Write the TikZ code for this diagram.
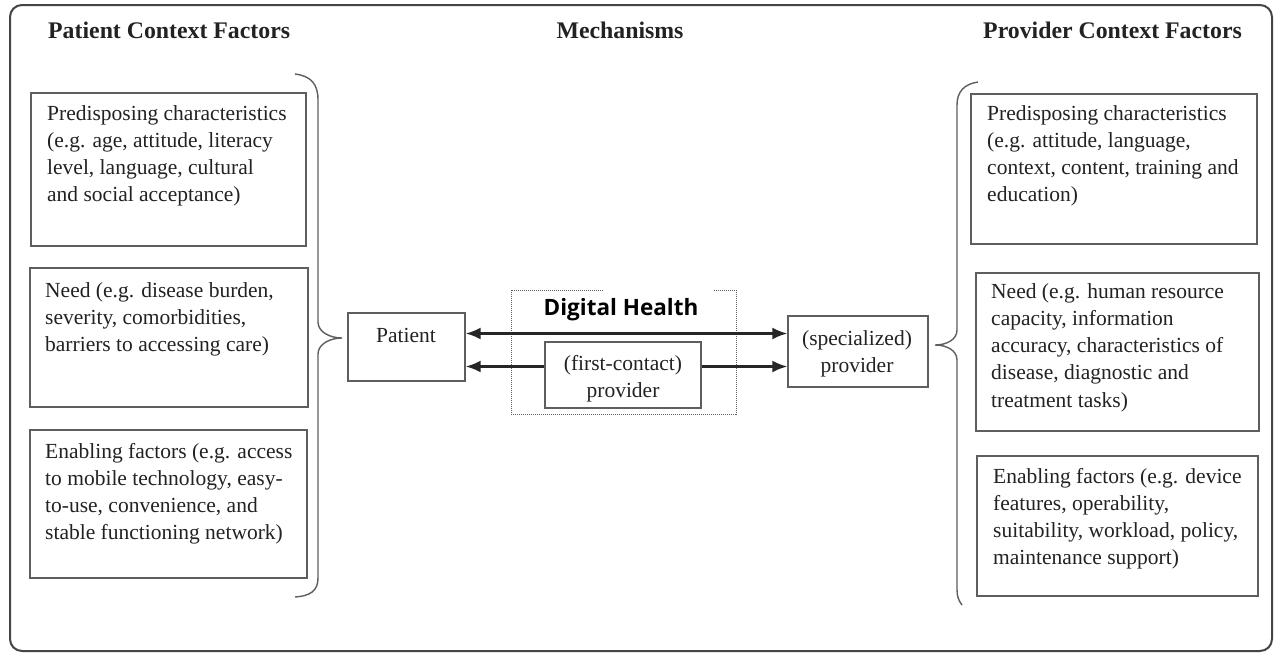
\documentclass[tikz,border=0pt]{standalone}
\usepackage{fontspec}
\setmainfont{Liberation Serif}
\newfontfamily\dhfont{Open Sans}
\usetikzlibrary{arrows.meta,calc}
\definecolor{boxgray}{HTML}{5E5E5E}
\definecolor{txtc}{HTML}{222222}
\definecolor{framec}{HTML}{454545}
\newcommand{\mlL}[1]{\begin{tabular}[t]{@{}l@{}}#1\end{tabular}}
\newcommand{\mlC}[1]{\begin{tabular}[t]{@{}c@{}}#1\end{tabular}}
\begin{document}
\begin{tikzpicture}[x=1pt,y=-1pt,
  boxs/.style={draw=boxgray,line width=1.3pt,inner sep=0pt,rectangle},
  body/.style={inner sep=0pt,text=txtc,font=\fontsize{21.5}{27.3}\selectfont},
  head/.style={inner sep=0pt,text=txtc,font=\fontsize{23.8}{28}\selectfont\bfseries},
  brace/.style={draw=boxgray,line width=1.4pt},
  arr/.style={draw=black!85,line width=2.4pt,-{Latex[length=15pt,width=12pt]}},
  darr/.style={draw=black!85,line width=2.4pt,{Latex[length=15pt,width=12pt]}-{Latex[length=15pt,width=12pt]}}
]
\useasboundingbox (0,0) rectangle (1276,654);
\fill[white] (0,0) rectangle (1276,654);
% outer frame
\draw[framec,line width=2pt,rounded corners=12pt] (10,5) rectangle (1272,651);

% headings
\node[head,anchor=base west] (hpat) at (48,38) {Patient Context Factors};
\node[head,anchor=base] (hmech) at (620,38) {Mechanisms};
\node[head,anchor=base west] (hprov) at (983,38) {Provider Context Factors};

% left boxes
\node[boxs,minimum width=275pt,minimum height=153pt] (l1) at (168.5,169.5) {};
\node[boxs,minimum width=278pt,minimum height=139pt] (l2) at (169,337.5) {};
\node[boxs,minimum width=277pt,minimum height=148pt] (l3) at (168.5,504) {};
\node[body,anchor=base west] (l1t) at (47,120) {\mlL{Predisposing characteristics\\(e.g. age, attitude, literacy\\level, language, cultural\\and social acceptance)}};
\node[body,anchor=base west] (l2t) at (45,297) {\mlL{Need (e.g. disease burden,\\severity, comorbidities,\\barriers to accessing care)}};
\node[body,anchor=base west] (l3t) at (45,458) {\mlL{Enabling factors (e.g. access\\to mobile technology, easy-\\to-use, convenience, and\\stable functioning network)}};

% right boxes
\node[boxs,minimum width=286pt,minimum height=150pt] (r1) at (1114,169) {};
\node[boxs,minimum width=283pt,minimum height=158pt] (r2) at (1117.5,352) {};
\node[boxs,minimum width=281pt,minimum height=140pt] (r3) at (1117.5,526) {};
\node[body,anchor=base west] (r1t) at (987,120) {\mlL{Predisposing characteristics\\(e.g. attitude, language,\\context, content, training and\\education)}};
\node[body,anchor=base west] (r2t) at (991,298) {\mlL{Need (e.g. human resource\\capacity, information\\accuracy, characteristics of\\disease, diagnostic and\\treatment tasks)}};
\node[body,anchor=base west] (r3t) at (993,483) {\mlL{Enabling factors (e.g. device\\features, operability,\\suitability, workload, policy,\\maintenance support)}};

% braces
\draw[brace] (295,74) .. controls (311,76) and (318,84) .. (318,100) -- (318,322)
  .. controls (318,332) and (330,338) .. (342,338)
  .. controls (330,338) and (318,344) .. (318,354) -- (318,578)
  .. controls (318,591) and (310,596) .. (295,597);
\draw[brace] (978,82) .. controls (964,84) and (957,92) .. (957,105) -- (957,330)
  .. controls (957,340) and (946,345) .. (935,345)
  .. controls (946,345) and (957,350) .. (957,360) -- (957,590)
  .. controls (957,597) and (959,601) .. (962,605);

% digital health dotted frame
\draw[boxgray,line width=1pt,densely dotted] (603,290) -- (511,290) -- (511,414) -- (736,414) -- (736,290) -- (713,290);
\node[inner sep=0pt,text=black,font=\dhfont\bfseries\fontsize{22.5}{26}\selectfont,anchor=base] (dh) at (621,315) {Digital Health};

% mechanism boxes
\node[boxs,minimum width=117pt,minimum height=68pt] (pat) at (406.5,347) {};
\node[body,anchor=base] (patt) at (406,342) {Patient};
\node[boxs,minimum width=156pt,minimum height=66pt] (fc) at (623,375) {};
\node[body,anchor=base] (fct) at (623,370) {\mlC{(first-contact)\\provider}};
\node[boxs,minimum width=140pt,minimum height=71pt] (spec) at (858,351.5) {};
\node[body,anchor=base] (spect) at (857,345) {\mlC{(specialized)\\provider}};

% arrows
\coordinate (ya) at (0,333.5);
\coordinate (yb) at (0,366.5);
\draw[darr] (pat.east |- ya) -- (spec.west |- ya);
\draw[arr] (fc.west |- yb) -- (pat.east |- yb);
\draw[arr] (fc.east |- yb) -- (spec.west |- yb);
\end{tikzpicture}
\end{document}
